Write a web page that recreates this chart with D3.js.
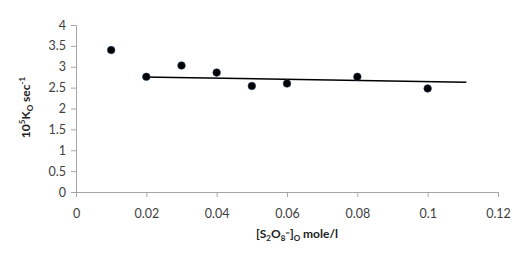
<!DOCTYPE html>
<html>
<head>
<meta charset="utf-8">
<script src="https://cdn.jsdelivr.net/npm/d3@7/dist/d3.min.js"></script>
<style>
  body { margin: 0; background: #fff; }
  text { font-family: Lato, "Open Sans", sans-serif; }
</style>
</head>
<body>
<div id="chart"></div>
<script>
// data
const concS2O8 = [0.01, 0.02, 0.03, 0.04, 0.05, 0.06, 0.08, 0.1];
const rateK0 = [3.40, 2.76, 3.03, 2.86, 2.54, 2.60, 2.76, 2.48];
const trendX = [0.019, 0.111];
const trendY = [2.755, 2.63];
const xTicks = [0, 0.02, 0.04, 0.06, 0.08, 0.1, 0.12];
const yTicks = [0, 0.5, 1, 1.5, 2, 2.5, 3, 3.5, 4];

const W = 529, H = 267;
const margin = {top: 25, right: 31, bottom: 75, left: 76},
    width = W - margin.left - margin.right,
    height = H - margin.top - margin.bottom;

const svg = d3.select("#chart")
  .append("svg")
    .attr("width", W)
    .attr("height", H)
  .append("g")
    .attr("transform", `translate(${margin.left},${margin.top})`);

const x = d3.scaleLinear().domain([0, 0.12]).range([0, width]);
const y = d3.scaleLinear().domain([0, 4]).range([height, 0]);

// X axis
const xAxis = svg.append("g")
    .attr("transform", `translate(0,${height})`)
    .call(d3.axisBottom(x).tickValues(xTicks).tickSize(5).tickPadding(12)
      .tickFormat(d => d3.format("")(+d.toFixed(2))));

// Y axis
const yAxis = svg.append("g")
    .call(d3.axisLeft(y).tickValues(yTicks).tickSize(5).tickPadding(5)
      .tickFormat(d => d3.format("")(d)));

[xAxis, yAxis].forEach(a => {
  a.selectAll("path, line").attr("stroke", "#a6a6a6");
  a.selectAll("text").attr("fill", "#404040").attr("font-size", 12.5);
});

// trend line
svg.append("path")
  .datum(trendX.map((v, i) => [v, trendY[i]]))
  .attr("fill", "none")
  .attr("stroke", "#000")
  .attr("stroke-width", 1.5)
  .attr("d", d3.line().x(d => x(d[0])).y(d => y(d[1])));

// points
svg.selectAll(".pt")
  .data(concS2O8)
  .join("circle")
    .attr("cx", d => x(d))
    .attr("cy", (d, i) => y(rateK0[i]))
    .attr("r", 3.8)
    .attr("fill", "#000")
    .attr("stroke", "#1f3a60")
    .attr("stroke-width", 0.6);

// x title
const xt = svg.append("text")
  .attr("x", 221)
  .attr("y", height + 46)
  .attr("text-anchor", "middle")
  .attr("font-size", 12)
  .attr("font-weight", "bold")
  .attr("fill", "#222");
xt.append("tspan").text("[S");
xt.append("tspan").attr("font-size", 8).attr("dy", 3).text("2");
xt.append("tspan").attr("dy", -3).text("O");
xt.append("tspan").attr("font-size", 8).attr("dy", 3).text("8");
xt.append("tspan").attr("font-size", 8).attr("dy", -6).text("=");
xt.append("tspan").attr("dy", 3).text("]");
xt.append("tspan").attr("font-size", 8).attr("dy", 3).text("O");
xt.append("tspan").attr("dy", -3).text(" mole/l");

// y title
const yt = svg.append("text")
  .attr("transform", `translate(${-46},${height / 2 - 1}) rotate(-90)`)
  .attr("text-anchor", "middle")
  .attr("font-size", 12)
  .attr("font-weight", "bold")
  .attr("fill", "#222");
yt.append("tspan").text("10");
yt.append("tspan").attr("font-size", 8).attr("dy", -5).text("5");
yt.append("tspan").attr("dy", 5).text("K");
yt.append("tspan").attr("font-size", 8).attr("dy", 3).text("O");
yt.append("tspan").attr("dy", -3).text(" sec");
yt.append("tspan").attr("font-size", 8).attr("dy", -5).text("-1");
</script>
</body>
</html>
